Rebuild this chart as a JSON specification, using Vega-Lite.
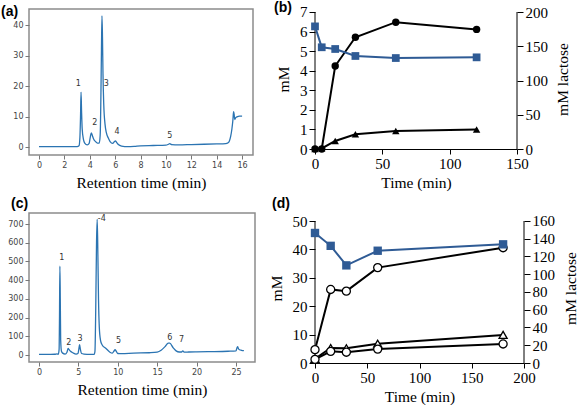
{
  "$schema": "https://vega.github.io/schema/vega-lite/v6.json",
  "padding": 0,
  "background": "white",
  "config": {
    "view": {"stroke": null},
    "axis": {"grid": false, "labelOverlap": false, "labelFlush": false, "titleFontWeight": "normal", "titleFont": "Liberation Serif", "titleColor": "black"},
    "axisX": {"titleFontWeight": "normal", "titleFont": "Liberation Serif"},
    "axisY": {"titleFontWeight": "normal", "titleFont": "Liberation Serif"}
  },
  "vconcat": [
    {
      "hconcat": [
        {
          "width": 224, "height": 146,
          "view": {"stroke": "#8c8c8c", "strokeWidth": 1.5},
          "title": {"text": "(a)", "anchor": "start", "frame": "group", "dx": -28, "offset": -10, "fontSize": 14, "fontWeight": "bold", "font": "Liberation Sans", "color": "black"},
          "encoding": {
            "x": {"field": "t", "type": "quantitative", "scale": {"domain": [-0.79, 16.86], "nice": false, "zero": false},
              "axis": {"values": [0,2,4,6,8,10,12,14,16], "title": "Retention time (min)", "titleFont": "Liberation Serif", "titleFontSize": 15.5, "titleFontWeight": "normal", "titleColor": "black", "titlePadding": 6, "labelFont": "DejaVu Sans", "labelFontSize": 8, "labelColor": "#444", "tickColor": "#777", "tickSize": 4, "labelPadding": 2, "domain": false}},
            "y": {"field": "v", "type": "quantitative", "scale": {"domain": [-2.62, 45.25], "nice": false, "zero": false},
              "axis": {"values": [0,10,20,30,40], "title": null, "labelFont": "DejaVu Sans", "labelFontSize": 8, "labelColor": "#444", "tickColor": "#777", "tickSize": 4, "labelPadding": 2, "domain": false}}
          },
          "layer": [
            {
              "data": {"values": [
                {"t":0,"v":0.1},{"t":1,"v":0.1},{"t":2,"v":0.1},{"t":3,"v":0.15},{"t":3.15,"v":0.4},{"t":3.22,"v":3},{"t":3.27,"v":10},{"t":3.31,"v":18},{"t":3.35,"v":12},{"t":3.4,"v":6},{"t":3.5,"v":2.5},{"t":3.6,"v":1.3},{"t":3.8,"v":0.7},{"t":3.95,"v":1.2},{"t":4.05,"v":3.5},{"t":4.12,"v":4.6},{"t":4.2,"v":3.8},{"t":4.3,"v":2.6},{"t":4.45,"v":1.8},{"t":4.6,"v":1.3},{"t":4.75,"v":1.3},{"t":4.82,"v":4},{"t":4.87,"v":15},{"t":4.92,"v":32},{"t":4.96,"v":43},{"t":5.0,"v":36},{"t":5.04,"v":24},{"t":5.1,"v":14},{"t":5.2,"v":7.5},{"t":5.3,"v":4.8},{"t":5.45,"v":3},{"t":5.6,"v":1.8},{"t":5.8,"v":1.2},{"t":5.95,"v":1.8},{"t":6.02,"v":2.0},{"t":6.1,"v":1.6},{"t":6.25,"v":0.8},{"t":6.5,"v":0.3},{"t":7,"v":0.1},{"t":7.5,"v":0.2},{"t":8,"v":0.4},{"t":9,"v":0.5},{"t":10,"v":0.6},{"t":10.2,"v":0.9},{"t":10.3,"v":1.1},{"t":10.45,"v":0.8},{"t":11,"v":0.7},{"t":12,"v":0.8},{"t":13,"v":0.9},{"t":14,"v":1.0},{"t":14.7,"v":1.1},{"t":14.9,"v":1.4},{"t":15.0,"v":2.0},{"t":15.1,"v":3.5},{"t":15.2,"v":6},{"t":15.28,"v":9},{"t":15.33,"v":11.6},{"t":15.38,"v":10.5},{"t":15.42,"v":9},{"t":15.5,"v":9.6},{"t":15.6,"v":9.9},{"t":15.8,"v":10.1},{"t":16,"v":10.1}
              ]},
              "mark": {"type": "line", "color": "#2b74b2", "strokeWidth": 1.3, "interpolate": "monotone"}
            },
            {
              "data": {"values": [
                {"t":3.1,"v":20.6,"l":"1"},{"t":4.4,"v":7.8,"l":"2"},{"t":5.3,"v":20.6,"l":"3"},{"t":6.15,"v":4.9,"l":"4"},{"t":10.3,"v":3.6,"l":"5"}
              ]},
              "mark": {"type": "text", "font": "DejaVu Sans", "fontSize": 8, "color": "#333"},
              "encoding": {"text": {"field": "l"}}
            }
          ]
        },
        {
          "width": 202, "height": 140,
          "title": {"text": "(b)", "anchor": "start", "frame": "group", "dx": -41, "offset": -10, "fontSize": 14, "fontWeight": "bold", "font": "Liberation Sans", "color": "black"},
          "encoding": {
            "x": {"field": "t", "type": "quantitative", "scale": {"domain": [0, 150], "nice": false},
              "axis": {"values": [0,50,100,150], "title": "Time (min)", "titleFont": "Liberation Serif", "titleFontSize": 15.5, "titleFontWeight": "normal", "titleColor": "black", "titlePadding": 4, "labelFont": "Liberation Serif", "labelFontSize": 15, "labelColor": "black", "tickColor": "black", "tickSize": 5, "labelPadding": 2, "domainColor": "black", "domainWidth": 1}}
          },
          "layer": [
            {
              "data": {"values": [
                {"s":"c","t":0,"v":0},{"s":"c","t":5,"v":0},{"s":"c","t":15,"v":4.24},{"s":"c","t":30,"v":5.71},{"s":"c","t":60,"v":6.48},{"s":"c","t":120,"v":6.11},
                {"s":"t","t":0,"v":0},{"s":"t","t":5,"v":0.03},{"s":"t","t":15,"v":0.41},{"s":"t","t":30,"v":0.75},{"s":"t","t":60,"v":0.92},{"s":"t","t":120,"v":1.0}
              ]},
              "encoding": {
                "y": {"field": "v", "type": "quantitative", "scale": {"domain": [0, 7.153], "nice": false},
                  "axis": {"values": [0,1,2,3,4,5,6,7], "title": "mM", "titleFont": "Liberation Serif", "titleFontSize": 15.5, "titleFontWeight": "normal", "titleColor": "black", "titlePadding": 8, "labelFont": "Liberation Serif", "labelFontSize": 15, "labelColor": "black", "tickColor": "black", "tickSize": 6, "labelPadding": 2, "domain": false}}
              },
              "layer": [
                {"data": {"values": [{"t":0,"v":0,"v2":7},{"t":150,"v":0,"v2":7}]}, "mark": {"type": "rule", "color": "black", "strokeWidth": 1}, "encoding": {"y2": {"field": "v2"}}},
                {"mark": {"type": "line", "color": "black", "strokeWidth": 2}, "encoding": {"detail": {"field": "s"}}},
                {"mark": {"type": "point", "filled": true, "color": "black", "opacity": 1, "size": 55},
                  "encoding": {"shape": {"field": "s", "type": "nominal", "scale": {"domain": ["c","t"], "range": ["circle","triangle-up"]}, "legend": null}}}
              ]
            },
            {
              "data": {"values": [
                {"t":0,"v":179},{"t":5,"v":148.5},{"t":15,"v":146},{"t":30,"v":135.8},{"t":60,"v":132.8},{"t":120,"v":133.8}
              ]},
              "encoding": {
                "y": {"field": "v", "type": "quantitative", "scale": {"domain": [0, 204.38], "nice": false},
                  "axis": {"orient": "right", "values": [0,50,100,150,200], "title": "mM lactose", "titleAngle": 270, "titleBaseline": "top", "titleFont": "Liberation Serif", "titleFontSize": 15.5, "titleFontWeight": "normal", "titleColor": "black", "titlePadding": 8, "labelFont": "Liberation Serif", "labelFontSize": 15, "labelColor": "black", "tickColor": "black", "tickSize": 6, "labelPadding": 2, "domain": false}}
              },
              "layer": [
                {"mark": {"type": "line", "color": "#2f5b95", "strokeWidth": 2}},
                {"mark": {"type": "point", "shape": "square", "filled": true, "color": "#2f5b95", "opacity": 1, "size": 60}}
              ]
            }
          ],
          "resolve": {"scale": {"y": "independent"}}
        }
      ],
      "spacing": 20
    },
    {
      "hconcat": [
        {
          "width": 226, "height": 149,
          "view": {"stroke": "#8c8c8c", "strokeWidth": 1.5},
          "title": {"text": "(c)", "anchor": "start", "frame": "group", "dx": -18, "offset": 2, "fontSize": 14, "fontWeight": "bold", "font": "Liberation Sans", "color": "black"},
          "encoding": {
            "x": {"field": "t", "type": "quantitative", "scale": {"domain": [-1.27, 27.41], "nice": false, "zero": false},
              "axis": {"values": [0,5,10,15,20,25], "title": "Retention time (min)", "titleFont": "Liberation Serif", "titleFontSize": 15.5, "titleFontWeight": "normal", "titleColor": "black", "titlePadding": 6, "labelFont": "DejaVu Sans", "labelFontSize": 8, "labelColor": "#444", "tickColor": "#777", "tickSize": 4, "labelPadding": 2, "domain": false}},
            "y": {"field": "v", "type": "quantitative", "scale": {"domain": [-37.4, 759], "nice": false, "zero": false},
              "axis": {"values": [0,100,200,300,400,500,600,700], "title": null, "labelFont": "DejaVu Sans", "labelFontSize": 8, "labelColor": "#444", "tickColor": "#777", "tickSize": 4, "labelPadding": 2, "domain": false}}
          },
          "layer": [
            {
              "data": {"values": [
                {"t":0,"v":3},{"t":1,"v":3},{"t":2,"v":4},{"t":2.3,"v":6},{"t":2.45,"v":4},{"t":2.55,"v":30},{"t":2.6,"v":200},{"t":2.65,"v":475},{"t":2.7,"v":300},{"t":2.75,"v":80},{"t":2.85,"v":20},{"t":3.0,"v":10},{"t":3.3,"v":5},{"t":3.55,"v":15},{"t":3.7,"v":35},{"t":3.8,"v":30},{"t":4.0,"v":20},{"t":4.3,"v":12},{"t":4.7,"v":5},{"t":4.95,"v":8},{"t":5.05,"v":30},{"t":5.15,"v":55},{"t":5.25,"v":30},{"t":5.4,"v":8},{"t":5.7,"v":5},{"t":6.5,"v":3},{"t":7.0,"v":3},{"t":7.1,"v":20},{"t":7.2,"v":250},{"t":7.3,"v":600},{"t":7.38,"v":725},{"t":7.45,"v":600},{"t":7.55,"v":300},{"t":7.65,"v":150},{"t":7.8,"v":80},{"t":8.0,"v":55},{"t":8.5,"v":35},{"t":9.0,"v":15},{"t":9.3,"v":10},{"t":9.5,"v":20},{"t":9.65,"v":28},{"t":9.8,"v":20},{"t":10.0,"v":8},{"t":10.5,"v":7},{"t":12,"v":10},{"t":14,"v":12},{"t":15,"v":15},{"t":15.5,"v":25},{"t":16,"v":45},{"t":16.4,"v":63},{"t":16.6,"v":63},{"t":17,"v":40},{"t":17.4,"v":22},{"t":17.8,"v":16},{"t":18.1,"v":16},{"t":18.25,"v":22},{"t":18.45,"v":15},{"t":19,"v":16},{"t":20,"v":17},{"t":22,"v":18},{"t":24,"v":20},{"t":25,"v":22},{"t":25.1,"v":35},{"t":25.2,"v":45},{"t":25.3,"v":35},{"t":25.45,"v":28},{"t":25.7,"v":25},{"t":26,"v":23}
              ]},
              "mark": {"type": "line", "color": "#2b74b2", "strokeWidth": 1.3, "interpolate": "monotone"}
            },
            {
              "data": {"values": [
                {"t":2.88,"v":519,"l":"1"},{"t":3.77,"v":64,"l":"2"},{"t":5.2,"v":85,"l":"3"},{"t":7.96,"v":727,"l":"-4"},{"t":10.1,"v":77,"l":"5"},{"t":16.6,"v":91,"l":"6"},{"t":18.1,"v":80,"l":"7"}
              ]},
              "mark": {"type": "text", "font": "DejaVu Sans", "fontSize": 8, "color": "#333"},
              "encoding": {"text": {"field": "l"}}
            }
          ]
        },
        {
          "width": 209, "height": 150,
          "title": {"text": "(d)", "anchor": "start", "frame": "group", "dx": -43, "offset": 2, "fontSize": 14, "fontWeight": "bold", "font": "Liberation Sans", "color": "black"},
          "encoding": {
            "x": {"field": "t", "type": "quantitative", "scale": {"domain": [0, 200], "nice": false},
              "axis": {"values": [0,50,100,150,200], "title": "Time (min)", "titleFont": "Liberation Serif", "titleFontSize": 15.5, "titleFontWeight": "normal", "titleColor": "black", "titlePadding": 4, "labelFont": "Liberation Serif", "labelFontSize": 15, "labelColor": "black", "tickColor": "black", "tickSize": 5, "labelPadding": 2, "domainColor": "black", "domainWidth": 1}}
          },
          "layer": [
            {
              "data": {"values": [
                {"s":"c","t":0,"v":4.7},{"s":"c","t":15,"v":25.9},{"s":"c","t":30,"v":25.3},{"s":"c","t":60,"v":33.6},{"s":"c","t":180,"v":40.6},
                {"s":"t","t":0,"v":1.5},{"s":"t","t":15,"v":5.3},{"s":"t","t":30,"v":5.2},{"s":"t","t":60,"v":6.8},{"s":"t","t":180,"v":9.9},
                {"s":"q","t":0,"v":1.3},{"s":"q","t":15,"v":4.1},{"s":"q","t":30,"v":3.8},{"s":"q","t":60,"v":4.9},{"s":"q","t":180,"v":6.7}
              ]},
              "encoding": {
                "y": {"field": "v", "type": "quantitative", "scale": {"domain": [0, 52.82], "nice": false},
                  "axis": {"values": [0,10,20,30,40,50], "title": "mM", "titleFont": "Liberation Serif", "titleFontSize": 15.5, "titleFontWeight": "normal", "titleColor": "black", "titlePadding": 8, "labelFont": "Liberation Serif", "labelFontSize": 15, "labelColor": "black", "tickColor": "black", "tickSize": 6, "labelPadding": 2, "domain": false}}
              },
              "layer": [
                {"data": {"values": [{"t":0,"v":0,"v2":50},{"t":200,"v":0,"v2":50}]}, "mark": {"type": "rule", "color": "black", "strokeWidth": 1}, "encoding": {"y2": {"field": "v2"}}},
                {"mark": {"type": "line", "color": "black", "strokeWidth": 2}, "encoding": {"detail": {"field": "s"}}},
                {"mark": {"type": "point", "filled": true, "fill": "white", "stroke": "black", "strokeWidth": 1.3, "opacity": 1, "size": 65},
                  "encoding": {"shape": {"field": "s", "type": "nominal", "scale": {"domain": ["c","t","q"], "range": ["circle","triangle-up","square"]}, "legend": null}}}
              ]
            },
            {
              "data": {"values": [
                {"t":0,"v":146.5},{"t":15,"v":132},{"t":30,"v":110},{"t":60,"v":126.5},{"t":180,"v":133.7}
              ]},
              "encoding": {
                "y": {"field": "v", "type": "quantitative", "scale": {"domain": [0, 169.01], "nice": false},
                  "axis": {"orient": "right", "values": [0,20,40,60,80,100,120,140,160], "title": "mM lactose", "titleAngle": 270, "titleBaseline": "top", "titleFont": "Liberation Serif", "titleFontSize": 15.5, "titleFontWeight": "normal", "titleColor": "black", "titlePadding": 9, "labelFont": "Liberation Serif", "labelFontSize": 15, "labelColor": "black", "tickColor": "black", "tickSize": 6, "labelPadding": 2, "domain": false}}
              },
              "layer": [
                {"mark": {"type": "line", "color": "#2f5b95", "strokeWidth": 2}},
                {"mark": {"type": "point", "shape": "square", "filled": true, "color": "#2f5b95", "opacity": 1, "size": 70}}
              ]
            }
          ],
          "resolve": {"scale": {"y": "independent"}}
        }
      ],
      "spacing": 13
    }
  ],
  "spacing": 4
}
